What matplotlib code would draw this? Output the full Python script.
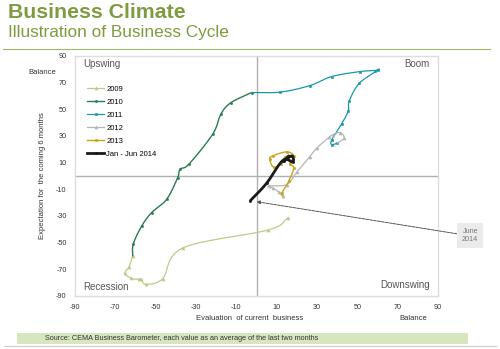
import numpy as np
import matplotlib
matplotlib.use("Agg")
import matplotlib.pyplot as plt
from matplotlib.lines import Line2D
from matplotlib.patches import Rectangle

plt.rcParams['font.family'] = ['Liberation Sans', 'DejaVu Sans']
plt.rcParams['axes.unicode_minus'] = False

# ---- data (current business evaluation x, expectation y) ----
x2009 = [15.8, 5.9, -36.6, -46.5, -54.8, -57.3, -58.5, -62.0, -65.3, -63.2, -61.4]
y2009 = [-31.3, -40.5, -54.0, -77.0, -81.2, -77.5, -77.5, -76.8, -73.0, -68.0, -60.0]
x2010 = [-61.1, -56.9, -52.0, -44.5, -39.1, -37.9, -33.5, -21.7, -17.6, -12.6, -2.4]
y2010 = [-51.0, -37.5, -27.5, -17.5, -1.3, 5.0, 8.8, 31.3, 46.5, 55.0, 62.5]
x2011 = [11.7, 26.5, 37.3, 51.3, 58.8, 60.4, 51.0, 46.0, 45.5, 42.2, 37.3, 37.3, 40.0]
y2011 = [62.8, 67.7, 74.5, 78.2, 79.0, 79.5, 69.5, 56.2, 48.7, 39.0, 27.0, 23.5, 24.5]
x2012 = [43.5, 41.5, 38.0, 36.0, 30.0, 26.5, 20.0, 15.0, 6.0, 8.0, 11.0, 13.0]
y2012 = [28.5, 32.5, 31.0, 29.0, 21.0, 14.5, 3.0, -6.5, -7.5, -9.0, -12.0, -15.0]
x2013 = [12.5, 16.0, 18.5, 16.5, 18.5, 15.0, 8.0, 6.5, 8.5, 12.0, 14.0, 16.0]
y2013 = [-13.0, -4.0, 6.0, 9.0, 15.0, 18.0, 15.0, 12.5, 6.5, 9.0, 14.0, 15.0]
x2014 = [13.5, 17.5, 18.0, 13.0, 5.0, -3.0]
y2014 = [11.0, 15.0, 10.5, 11.5, -5.5, -18.5]

series_labels = ['2009', '2010', '2011', '2012', '2013', 'Jan - Jun 2014']
ticks = [-90, -70, -50, -30, -10, 10, 30, 50, 70, 90]

colors = ['#c2c88c', '#2b7a52', '#1997a9', '#b5b5b5', '#c9a31c', '#1a1a1a']
markers = ['^', 'o', 's', '^', 's', 'o']
msizes = [2.2, 1.6, 2.0, 2.2, 2.1, 1.6]
lws = [0.9, 1.0, 0.9, 0.9, 1.0, 2.0]


def catmull(xs, ys, n=12):
    p = np.column_stack([xs, ys]).astype(float)
    if len(p) < 3:
        return p[:, 0], p[:, 1]
    ext = np.vstack([2 * p[0] - p[1], p, 2 * p[-1] - p[-2]])
    out = []
    for i in range(1, len(ext) - 2):
        p0, p1, p2, p3 = ext[i - 1], ext[i], ext[i + 1], ext[i + 2]
        t = np.linspace(0, 1, n, endpoint=False)[:, None]
        pts = 0.5 * ((2 * p1) + (-p0 + p2) * t + (2 * p0 - 5 * p1 + 4 * p2 - p3) * t ** 2
                     + (-p0 + 3 * p1 - 3 * p2 + p3) * t ** 3)
        out.append(pts)
    out.append(p[-1:])
    out = np.vstack(out)
    return out[:, 0], out[:, 1]


fig = plt.figure(figsize=(5.0, 3.49), dpi=100)
ax = fig.add_axes([0.150, 0.152, 0.726, 0.688])

ax.set_xlim(-90, 90)
ax.set_ylim(-90, 90)
ax.set_xticks(ticks)
ax.set_yticks(ticks)
ax.tick_params(length=0, labelsize=5.2, colors='#333333', pad=6)
for s in ax.spines.values():
    s.set_color('#dddddd')
    s.set_linewidth(1.0)
ax.axvline(0, color='#b0b0b0', lw=1.0, zorder=1)
ax.axhline(0, color='#b0b0b0', lw=1.0, zorder=1)

xs_all = [x2009, x2010, x2011, x2012, x2013, x2014]
ys_all = [y2009, y2010, y2011, y2012, y2013, y2014]
prev = None
for i, (xs, ys) in enumerate(zip(xs_all, ys_all)):
    xx, yy = list(xs), list(ys)
    if prev is not None:
        xx = [prev[0]] + xx
        yy = [prev[1]] + yy
    sx, sy = catmull(xx, yy)
    ax.plot(sx, sy, color=colors[i], lw=lws[i], zorder=3 + i, solid_capstyle='round')
    ax.plot(xs, ys, ls='none', marker=markers[i], ms=msizes[i], mew=0.4,
            color=colors[i], zorder=3 + i)
    prev = (xs[-1], ys[-1])

handles = [Line2D([0], [0], color=colors[i], lw=lws[i], marker=markers[i],
                  ms=msizes[i], mew=0.4) for i in range(6)]
leg = ax.legend(handles, series_labels, loc='upper left', bbox_to_anchor=(0.025, 0.89),
                frameon=False, fontsize=5.5, handlelength=2.2, handletextpad=0.3,
                labelspacing=0.75, borderaxespad=0)

ax.text(-86, 84, 'Upswing', fontsize=7, color='#555555', va='center', ha='left')
ax.text(86, 84, 'Boom', fontsize=7, color='#555555', va='center', ha='right')
ax.text(-86, -83, 'Recession', fontsize=7, color='#555555', va='center', ha='left')
ax.text(86, -82, 'Downswing', fontsize=7, color='#555555', va='center', ha='right')

ax.annotate('June\n2014', xy=(0, -19.3), xytext=(106, -45), textcoords='data',
            fontsize=5.2, color='#777777', ha='center', va='center', annotation_clip=False,
            bbox=dict(boxstyle='square,pad=0.7', fc='#ebebeb', ec='none'),
            arrowprops=dict(arrowstyle='-|>', color='#555555', lw=0.7, ls=(0, (3, 1)),
                            mutation_scale=5, shrinkA=0, shrinkB=0))

fig.text(0.500, 1 - 318 / 349, 'Evaluation  of current  business', fontsize=5.5,
         color='#333333', ha='center', va='center')
fig.text(0.826, 1 - 318 / 349, 'Balance', fontsize=5.5, color='#333333',
         ha='center', va='center')
fig.text(0.086, 1 - 176 / 349, 'Expectation for  the coming 6 months', fontsize=5.5,
         color='#333333', ha='center', va='center', rotation=90)
fig.text(0.084, 1 - 73 / 349, 'Balance', fontsize=5.5, color='#333333',
         ha='center', va='center')

fig.text(0.016, 1 - 12.5 / 349, 'Business Climate', fontsize=15.3, fontweight='bold',
         color='#7f9b3e', ha='left', va='center')
fig.text(0.016, 1 - 33 / 349, 'Illustration of Business Cycle', fontsize=12.4,
         color='#7f9b3e', ha='left', va='center')
fig.add_artist(Line2D([0.006, 0.98], [1 - 49 / 349, 1 - 49 / 349], color='#9fb86a', lw=0.8))

fig.add_artist(Rectangle((17 / 500, 1 - 344 / 349), 451 / 500, 11 / 349,
                         facecolor='#d8e6bf', edgecolor='none'))
fig.text(45 / 500, 1 - 338.5 / 349,
         'Source: CEMA Business Barometer, each value as an average of the last two months',
         fontsize=5.25, color='#333333', ha='left', va='center')
fig.add_artist(Line2D([0.008, 0.992], [1 - 346 / 349, 1 - 346 / 349], color='#cccccc', lw=0.8))

fig.savefig('out.png', dpi=100)
